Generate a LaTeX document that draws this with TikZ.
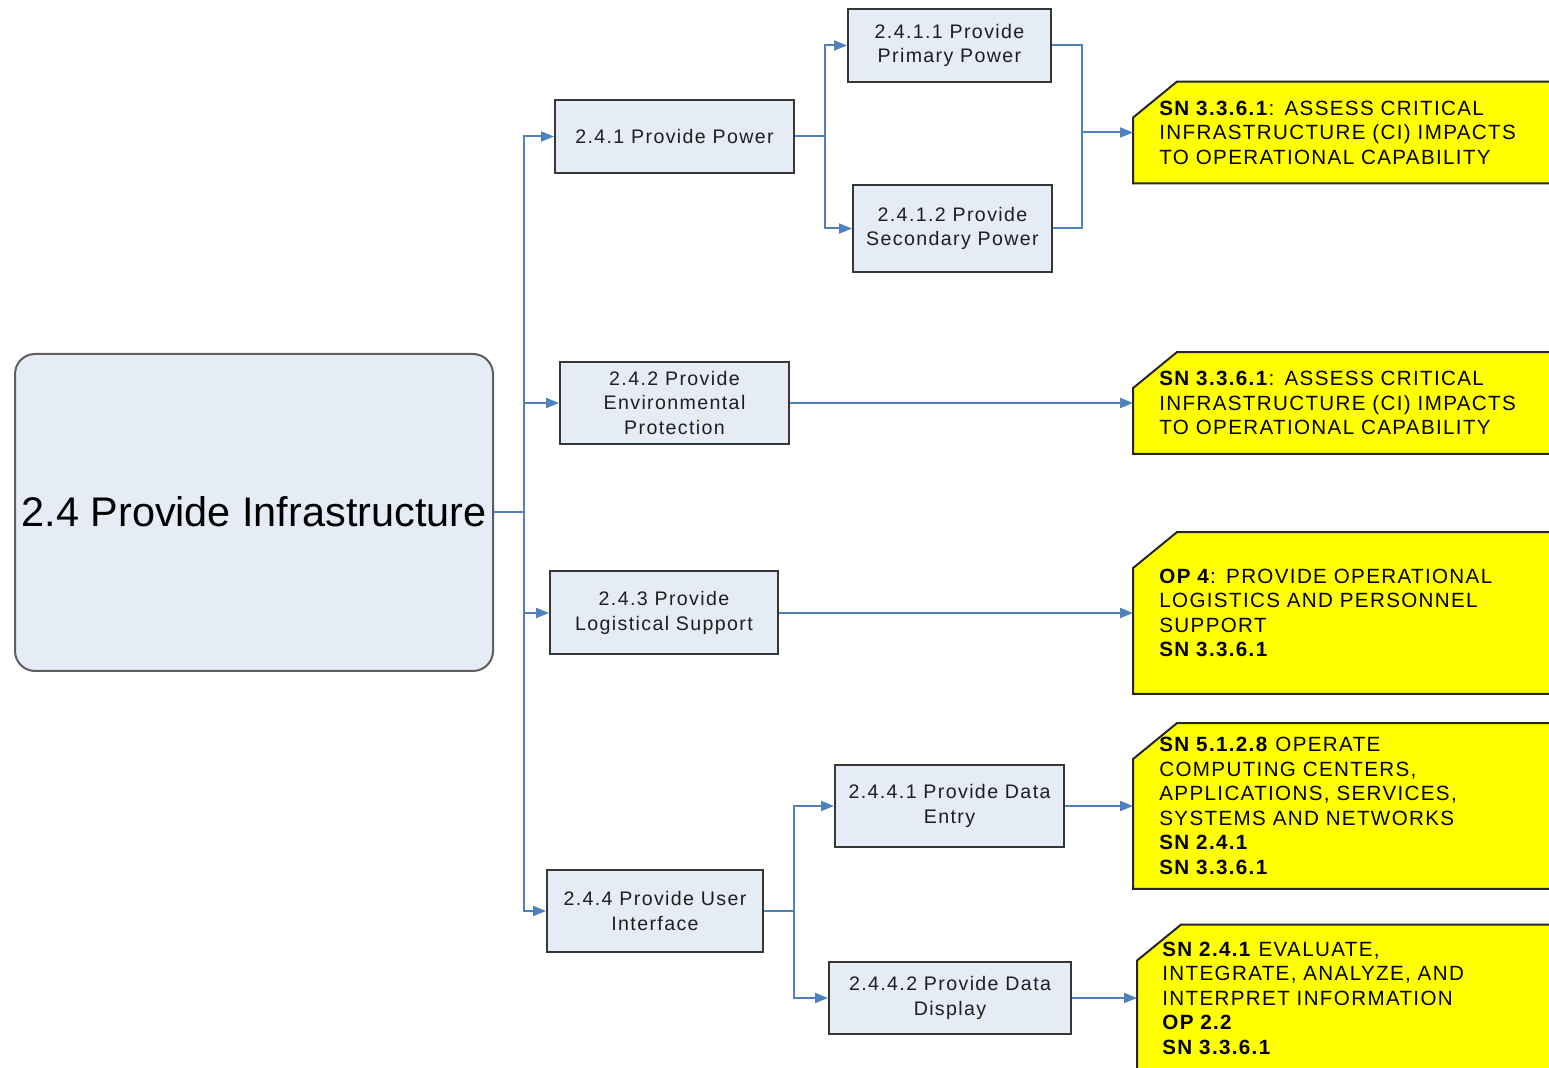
\documentclass[tikz,border=0pt]{standalone}
\usepackage{fontspec}
\setmainfont{Liberation Sans}
\newfontfamily\boxfont{Liberation Sans}[LetterSpace=7]
\newfontfamily\yfont{Liberation Sans}[LetterSpace=6.5]
\usetikzlibrary{arrows.meta,calc,backgrounds}
\definecolor{lineblue}{RGB}{79,129,189}
\definecolor{boxfill}{RGB}{230,236,246}
\definecolor{boxborder}{RGB}{55,55,55}
\definecolor{textgray}{RGB}{30,30,30}
\definecolor{ylw}{RGB}{255,255,0}
\newcommand\ychamfer[1]{\fill[ylw, draw=black!85, line width=1pt] ($(#1.north west)+(0,36)$) -- ($(#1.north west)+(44,0)$) -- (#1.north east) -- (#1.south east) -- (#1.south west) -- cycle;}
\tikzset{
  conn/.style={draw=lineblue, line width=1pt},
  arr/.style={conn, -{Triangle[length=6.5pt,width=5pt]}},
  box/.style={draw=boxborder, fill=boxfill, line width=1pt, align=center, inner sep=0pt,
    text=textgray, font=\boxfont\fontsize{9.8}{12.25}\selectfont},
  mainbox/.style={draw=boxborder!80, fill=boxfill, line width=1pt, rounded corners=10pt,
    inner sep=0pt, text=black, font=\fontsize{20.7}{24}\selectfont},
  ybox/.style={anchor=west, align=left, inner xsep=13pt, inner ysep=0pt,
    text width=207.5pt, text=black, font=\yfont\fontsize{10.3}{12.25}\selectfont}
}
\begin{document}
\begin{tikzpicture}[x=0.5pt,y=-0.5pt]
\useasboundingbox (0,0) rectangle (1549,1068);
\clip (0,0) rectangle (1549,1068);
% main
\node[mainbox, minimum width=239pt, minimum height=158.5pt] (main) at (254,512.5) {\raisebox{1pt}{2.4 Provide Infrastructure}};
% level 1
\node[box, minimum width=119.5pt, minimum height=36.5pt] (b241) at (674.5,136.5) {2.4.1 Provide Power};
\node[box, minimum width=114.5pt, minimum height=41pt] (b242) at (674.5,403) {2.4.2 Provide\\Environmental\\Protection};
\node[box, minimum width=114pt, minimum height=41.5pt] (b243) at (664,613) {2.4.3 Provide\\Logistical Support};
\node[box, minimum width=108pt, minimum height=41pt] (b244) at (655,911) {2.4.4 Provide User\\Interface};
% level 2
\node[box, minimum width=101.5pt, minimum height=36.5pt] (b2411) at (949.5,45.5) {2.4.1.1 Provide\\Primary Power};
\node[box, minimum width=99.5pt, minimum height=43.5pt] (b2412) at (952.5,228.5) {2.4.1.2 Provide\\Secondary Power};
\node[box, minimum width=114.5pt, minimum height=41pt] (b2441) at (949.5,806) {2.4.4.1 Provide Data\\Entry};
\node[box, minimum width=121pt, minimum height=36pt] (b2442) at (950,998) {2.4.4.2 Provide Data\\Display};
% yellow
\node[ybox, minimum height=50.5pt] (y1) at (1133,132.5) {\textbf{SN 3.3.6.1}: ASSESS CRITICAL\\INFRASTRUCTURE (CI) IMPACTS\\TO OPERATIONAL CAPABILITY};
\node[ybox, minimum height=50.5pt] (y2) at (1133,403) {\textbf{SN 3.3.6.1}: ASSESS CRITICAL\\INFRASTRUCTURE (CI) IMPACTS\\TO OPERATIONAL CAPABILITY};
\node[ybox, minimum height=80.5pt] (y3) at (1133,613) {\textbf{OP 4}: PROVIDE OPERATIONAL\\LOGISTICS AND PERSONNEL\\SUPPORT\\\textbf{SN 3.3.6.1}};
\node[ybox, minimum height=82.5pt] (y4) at (1133,806) {\textbf{SN 5.1.2.8} OPERATE\\COMPUTING CENTERS,\\APPLICATIONS, SERVICES,\\SYSTEMS AND NETWORKS\\\textbf{SN 2.4.1}\\\textbf{SN 3.3.6.1}};
\node[ybox, inner xsep=12.5pt, minimum height=73pt] (y5) at (1137,998) {\textbf{SN 2.4.1} EVALUATE,\\INTEGRATE, ANALYZE, AND\\INTERPRET INFORMATION\\\textbf{OP 2.2}\\\textbf{SN 3.3.6.1}};
\begin{scope}[on background layer]
\ychamfer{y1}
\ychamfer{y2}
\ychamfer{y3}
\ychamfer{y4}
\ychamfer{y5}
\end{scope}
% connectors
\coordinate (t) at (524,512.5);
\draw[conn] (main.east) -- (t);
\draw[arr] (t) |- (b241.west);
\draw[arr] (t) |- (b242.west);
\draw[arr] (t) |- (b243.west);
\draw[arr] (t) |- (b244.west);
\coordinate (t1) at (825,136.5);
\draw[conn] (b241.east) -- (t1);
\draw[arr] (t1) |- (b2411.west);
\draw[arr] (t1) |- (b2412.west);
\coordinate (j1) at (1082,132.5);
\draw[conn] (b2411.east) -| (j1);
\draw[conn] (b2412.east) -| (j1);
\draw[arr] (j1) -- (y1.west);
\draw[arr] (b242.east) -- (y2.west);
\draw[arr] (b243.east) -- (y3.west);
\coordinate (t4) at (794,911);
\draw[conn] (b244.east) -- (t4);
\draw[arr] (t4) |- (b2441.west);
\draw[arr] (t4) |- (b2442.west);
\draw[arr] (b2441.east) -- (y4.west);
\draw[arr] (b2442.east) -- (y5.west);
\end{tikzpicture}
\end{document}
